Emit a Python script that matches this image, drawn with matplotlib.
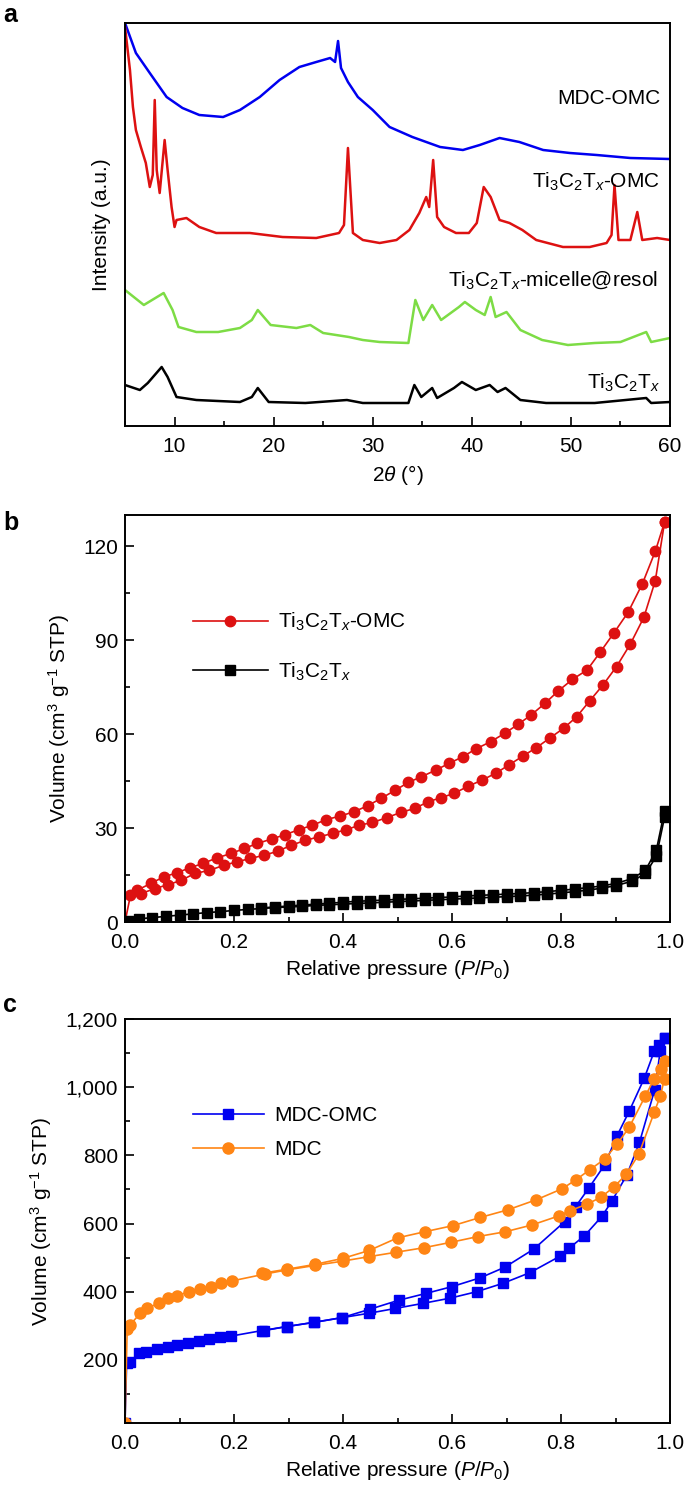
import matplotlib
matplotlib.use("Agg")
import matplotlib.pyplot as plt
from matplotlib.ticker import MultipleLocator, FuncFormatter

plt.rcParams['font.family'] = ['Liberation Sans', 'DejaVu Sans']
plt.rcParams['mathtext.fontset'] = 'custom'
plt.rcParams['mathtext.rm'] = 'Liberation Sans'
plt.rcParams['mathtext.it'] = 'Liberation Sans:italic'
plt.rcParams['axes.unicode_minus'] = True

# ---------------- panel a: XRD patterns (offset, arbitrary units) ----------------
mdc_omc_2t = [5.0, 6.1, 7.5, 9.2, 10.8, 12.5, 14.9, 16.6, 18.6, 20.6, 22.6, 24.3, 25.7, 26.2, 26.5,
              26.8, 27.5, 28.5, 30.0, 31.7, 34.0, 36.8, 39.1, 40.8, 42.8, 44.8, 47.2, 49.9, 52.6, 56.0, 60.0]
mdc_omc_int = [403, 373, 353, 329, 318, 311, 309, 316, 329, 346, 359, 364, 368, 364, 385,
               358, 344, 329, 316, 299, 289, 279, 276, 281, 288, 284, 276, 273, 271, 268, 267]

ti_omc_2t = [5.0, 5.5, 5.8, 6.1, 6.6, 7.1, 7.5, 7.8, 8.0, 8.2, 8.5, 9.0, 9.3, 9.7, 10.0, 10.2, 11.2,
             12.5, 14.2, 17.6, 20.9, 24.3, 26.6, 27.1, 27.5, 28.0, 29.0, 30.7, 32.4, 33.7, 34.7, 35.4,
             35.7, 36.1, 36.5, 37.2, 38.4, 39.7, 40.5, 41.2, 41.9, 42.8, 43.8, 45.1, 46.5, 49.2, 51.9,
             53.6, 54.1, 54.4, 54.8, 56.0, 56.7, 57.2, 58.7, 60.0]
ti_omc_int = [399, 356, 319, 296, 279, 263, 239, 251, 326, 256, 233, 286, 256, 219, 199, 206, 208,
              199, 193, 193, 189, 188, 193, 201, 278, 193, 186, 183, 186, 196, 213, 229,
              219, 266, 209, 199, 193, 193, 203, 239, 229, 206, 203, 196, 186, 179, 179,
              183, 191, 241, 186, 186, 214, 186, 188, 186]

micelle_2t = [5.0, 6.9, 8.9, 9.8, 10.4, 12.2, 14.4, 16.6, 17.8, 18.4, 19.7, 22.3, 23.7, 25.0, 27.6,
              29.0, 30.7, 33.6, 34.3, 35.1, 36.0, 36.9, 38.7, 39.3, 40.4, 41.3, 41.9, 42.4, 43.5,
              44.9, 47.1, 49.7, 52.4, 55.0, 57.6, 58.1, 60.0]
micelle_int = [136, 121, 133, 116, 99, 94, 94, 98, 106, 116, 101, 98, 101, 93, 89,
               86, 84, 83, 126, 106, 121, 106, 119, 124, 116, 111, 129, 109, 114,
               96, 86, 81, 83, 84, 94, 84, 88]

ti_2t = [5.0, 6.5, 7.3, 8.7, 9.3, 10.2, 12.2, 16.6, 17.8, 18.4, 19.5, 23.2, 27.4, 29.0, 33.6, 34.2,
         34.9, 36.0, 36.5, 38.2, 39.0, 40.4, 41.8, 42.6, 43.4, 44.9, 47.5, 52.4, 57.6, 58.1, 60.0]
ti_int = [41, 36, 43, 59, 49, 29, 26, 24, 29, 38, 24, 23, 26, 23, 23, 41,
          29, 38, 28, 38, 44, 36, 41, 34, 38, 26, 23, 23, 28, 23, 24]

# ---------------- panel b: N2 isotherms ----------------
omc_ads_p = [0.0, 0.01, 0.030, 0.055, 0.079, 0.103, 0.128, 0.155, 0.181, 0.205, 0.230, 0.255, 0.280,
             0.305, 0.331, 0.356, 0.381, 0.406, 0.430, 0.454, 0.480, 0.506, 0.532, 0.556, 0.580,
             0.604, 0.630, 0.655, 0.680, 0.704, 0.730, 0.755, 0.779, 0.805, 0.829, 0.853, 0.877,
             0.902, 0.927, 0.952, 0.973, 0.990]
omc_ads_v = [0.0, 8.5, 9.1, 10.7, 11.9, 13.3, 15.5, 16.5, 18.1, 19.2, 20.3, 21.3, 22.6,
             24.5, 26.1, 27.2, 28.3, 29.5, 30.9, 31.8, 33.3, 35.0, 36.3, 38.4, 39.7,
             41.1, 43.4, 45.3, 47.5, 50.1, 53.0, 55.7, 58.7, 61.9, 65.6, 70.7, 75.7,
             81.6, 88.7, 97.3, 109.0, 127.7]
omc_des_p = [0.990, 0.973, 0.949, 0.923, 0.897, 0.872, 0.848, 0.821, 0.795, 0.771, 0.745, 0.721,
             0.697, 0.671, 0.644, 0.620, 0.595, 0.570, 0.544, 0.520, 0.496, 0.470, 0.445, 0.420,
             0.394, 0.369, 0.344, 0.319, 0.294, 0.269, 0.243, 0.219, 0.195, 0.169, 0.143, 0.119,
             0.095, 0.071, 0.047, 0.022]
omc_des_v = [127.7, 118.4, 107.9, 98.9, 92.3, 86.2, 80.5, 77.5, 73.8, 69.9, 66.1, 63.1,
             60.3, 57.6, 55.3, 52.8, 50.7, 48.5, 46.4, 44.6, 42.1, 39.5, 37.1, 35.2,
             33.8, 32.7, 30.9, 29.5, 27.9, 26.5, 25.1, 23.5, 21.9, 20.5, 18.7, 17.3,
             15.7, 14.4, 12.3, 10.1]

mx_ads_p = [0.0, 0.005, 0.025, 0.05, 0.075, 0.10, 0.125, 0.15, 0.175, 0.20, 0.225, 0.25, 0.275, 0.30,
            0.325, 0.35, 0.375, 0.40, 0.425, 0.45, 0.475, 0.50, 0.525, 0.55, 0.575, 0.60, 0.625,
            0.65, 0.675, 0.70, 0.725, 0.75, 0.775, 0.80, 0.825, 0.85, 0.875, 0.90, 0.93, 0.955,
            0.975, 0.99]
mx_ads_v = [0.0, 0.3, 1.0, 1.4, 1.8, 2.2, 2.6, 3.0, 3.3, 3.7, 4.0, 4.3, 4.6, 4.8,
            5.0, 5.3, 5.5, 5.7, 5.9, 6.1, 6.3, 6.5, 6.7, 6.9, 7.1, 7.3, 7.5,
            7.7, 7.9, 8.1, 8.3, 8.6, 8.9, 9.3, 9.7, 10.2, 10.8, 11.6, 13.0, 15.5,
            21.0, 33.5]
mx_des_p = [0.99, 0.975, 0.955, 0.93, 0.90, 0.875, 0.85, 0.825, 0.80, 0.775, 0.75, 0.725, 0.70,
            0.675, 0.65, 0.625, 0.60, 0.575, 0.55, 0.525, 0.50, 0.475, 0.45, 0.425, 0.40, 0.375,
            0.35, 0.325, 0.30, 0.275, 0.25]
mx_des_v = [35.5, 23.0, 16.5, 13.8, 12.3, 11.5, 11.0, 10.5, 10.1, 9.7, 9.4, 9.1, 8.9,
            8.7, 8.5, 8.3, 8.0, 7.8, 7.6, 7.4, 7.2, 7.0, 6.8, 6.6, 6.3, 6.0,
            5.7, 5.4, 5.1, 4.8, 4.5]

# ---------------- panel c: N2 isotherms ----------------
mdcomc_ads_p = [0.0, 0.003, 0.009, 0.026, 0.039, 0.059, 0.079, 0.095, 0.115, 0.135, 0.155, 0.175,
                0.195, 0.251, 0.297, 0.346, 0.398, 0.448, 0.496, 0.547, 0.596, 0.645, 0.694,
                0.743, 0.799, 0.815, 0.843, 0.875, 0.893, 0.921, 0.944, 0.972, 0.982, 0.990]
mdcomc_ads_v = [14, 190, 195, 219, 224, 231, 239, 244, 251, 256, 261, 266,
                270, 286, 298, 310, 324, 337, 351, 366, 381, 400, 425,
                456, 505, 528, 564, 621, 665, 743, 838, 993, 1105, 1144]
mdcomc_des_p = [0.990, 0.980, 0.971, 0.953, 0.925, 0.903, 0.880, 0.851, 0.827, 0.807, 0.750,
                0.697, 0.652, 0.600, 0.552, 0.502, 0.450, 0.398, 0.346, 0.297, 0.255]
mdcomc_des_v = [1144, 1125, 1105, 1027, 929, 858, 772, 704, 650, 606, 525,
                472, 441, 415, 395, 375, 349, 324, 310, 298, 286]

mdc_ads_p = [0.0, 0.004, 0.009, 0.028, 0.041, 0.063, 0.079, 0.095, 0.117, 0.137, 0.157, 0.177,
             0.197, 0.257, 0.297, 0.348, 0.400, 0.448, 0.498, 0.548, 0.598, 0.648, 0.698,
             0.747, 0.797, 0.817, 0.848, 0.873, 0.897, 0.920, 0.943, 0.971, 0.982, 0.990]
mdc_ads_v = [14, 290, 302, 337, 351, 368, 381, 388, 400, 407, 415, 425,
             432, 452, 464, 477, 490, 503, 516, 529, 545, 562, 576,
             596, 623, 638, 657, 677, 707, 745, 804, 926, 973, 1025]
mdc_des_p = [0.991, 0.983, 0.971, 0.955, 0.925, 0.903, 0.880, 0.853, 0.827, 0.802, 0.755,
             0.702, 0.652, 0.602, 0.550, 0.500, 0.448, 0.400, 0.348, 0.297, 0.251]
mdc_des_v = [1076, 1053, 1024, 975, 882, 833, 789, 758, 728, 702, 670,
             640, 618, 594, 576, 558, 521, 498, 480, 466, 454]

RED = '#dd1111'
BLUE = '#0000f0'
GREEN = '#7ddc45'
ORANGE = '#ff8514'
FS = 15

W, H = 685, 1491
fig = plt.figure(figsize=(W / 100, H / 100), dpi=100)


def add_axes_px(left, top, right, bottom):
    return fig.add_axes([left / W, 1 - bottom / H, (right - left) / W, (bottom - top) / H])


def style_axes(ax):
    for sp in ax.spines.values():
        sp.set_linewidth(1.4)
    ax.tick_params(which='both', direction='in', top=False, right=False, labelsize=FS, width=1.2)
    ax.tick_params(which='major', length=6.5, pad=5)
    ax.tick_params(which='minor', length=3.5)
    # keep the bottom-left "0" and "0.0" labels apart
    ax.tick_params(axis='x', which='major', pad=8)


# ---- panel a ----
ax1 = add_axes_px(125, 23, 670, 426)
ax1.plot(mdc_omc_2t, mdc_omc_int, color=BLUE, lw=1.8)
ax1.plot(ti_omc_2t, ti_omc_int, color=RED, lw=1.8)
ax1.plot(micelle_2t, micelle_int, color=GREEN, lw=1.8)
ax1.plot(ti_2t, ti_int, color='black', lw=1.8)
ax1.set_xlim(5, 60)
ax1.set_ylim(0, 403)
ax1.xaxis.set_major_locator(MultipleLocator(10))
ax1.xaxis.set_minor_locator(MultipleLocator(5))
ax1.set_yticks([])
style_axes(ax1)
ax1.set_xlabel(r'2$\theta$ (°)', fontsize=FS, labelpad=5)
ax1.set_ylabel('Intensity (a.u.)', fontsize=FS, labelpad=10)
tx = 0.982
ax1.text(tx, 327, 'MDC-OMC', transform=ax1.get_yaxis_transform(), ha='right', va='center', fontsize=FS)
ax1.text(tx, 244, r'Ti$_3$C$_2$T$_x$-OMC', transform=ax1.get_yaxis_transform(), ha='right', va='center', fontsize=FS)
ax1.text(0.978, 146, r'Ti$_3$C$_2$T$_x$-micelle@resol', transform=ax1.get_yaxis_transform(), ha='right', va='center', fontsize=FS)
ax1.text(tx, 43, r'Ti$_3$C$_2$T$_x$', transform=ax1.get_yaxis_transform(), ha='right', va='center', fontsize=FS)

# ---- panel b ----
ax2 = add_axes_px(125, 515, 670, 922)
ax2.plot(omc_ads_p, omc_ads_v, color=RED, marker='o', ms=7.5, lw=1.2, label=r'Ti$_3$C$_2$T$_x$-OMC')
ax2.plot(omc_des_p, omc_des_v, color=RED, marker='o', ms=7.5, lw=1.2)
ax2.plot(mx_ads_p, mx_ads_v, color='black', marker='s', ms=7, lw=1.2, label=r'Ti$_3$C$_2$T$_x$')
ax2.plot(mx_des_p, mx_des_v, color='black', marker='s', ms=7, lw=1.2)
ax2.set_xlim(0, 1.0)
ax2.set_ylim(0, 130)
ax2.xaxis.set_major_locator(MultipleLocator(0.2))
ax2.xaxis.set_minor_locator(MultipleLocator(0.1))
ax2.xaxis.set_major_formatter(FuncFormatter(lambda v, p: f'{v:.1f}'))
ax2.yaxis.set_major_locator(MultipleLocator(30))
ax2.yaxis.set_minor_locator(MultipleLocator(15))
style_axes(ax2)
ax2.set_xlabel(r'Relative pressure ($P$/$P_0$)', fontsize=FS, labelpad=4)
ax2.set_ylabel(r'Volume (cm$^3$ g$^{-1}$ STP)', fontsize=FS, labelpad=8)
ax2.legend(loc='upper left', bbox_to_anchor=(0.09, 0.81), frameon=False, fontsize=FS,
           handlelength=3.6, labelspacing=1.3, handletextpad=0.5)

# ---- panel c ----
ax3 = add_axes_px(125, 1019, 670, 1423)
ax3.plot(mdcomc_ads_p, mdcomc_ads_v, color=BLUE, marker='s', ms=7, lw=1.2, label='MDC-OMC')
ax3.plot(mdcomc_des_p, mdcomc_des_v, color=BLUE, marker='s', ms=7, lw=1.2)
ax3.plot(mdc_ads_p, mdc_ads_v, color=ORANGE, marker='o', ms=8, lw=1.2, label='MDC')
ax3.plot(mdc_des_p, mdc_des_v, color=ORANGE, marker='o', ms=8, lw=1.2)
ax3.set_xlim(0, 1.0)
ax3.set_ylim(15, 1200)
ax3.xaxis.set_major_locator(MultipleLocator(0.2))
ax3.xaxis.set_minor_locator(MultipleLocator(0.1))
ax3.xaxis.set_major_formatter(FuncFormatter(lambda v, p: f'{v:.1f}'))
ax3.yaxis.set_major_locator(MultipleLocator(200))
ax3.yaxis.set_minor_locator(MultipleLocator(100))
ax3.yaxis.set_major_formatter(FuncFormatter(lambda v, p: f'{v:,.0f}' if v > 0 else ''))
style_axes(ax3)
ax3.set_xlabel(r'Relative pressure ($P$/$P_0$)', fontsize=FS, labelpad=4)
ax3.set_ylabel(r'Volume (cm$^3$ g$^{-1}$ STP)', fontsize=FS, labelpad=8)
ax3.legend(loc='upper left', bbox_to_anchor=(0.09, 0.83), frameon=False, fontsize=FS,
           handlelength=3.4, labelspacing=0.7, handletextpad=0.5)

# panel letters
for lab, ypx in [('a', 15), ('b', 523), ('c', 1005)]:
    fig.text(3 / W, 1 - ypx / H, lab, fontsize=18, fontweight='bold', va='center', ha='left')

fig.savefig('out.png', dpi=100)
